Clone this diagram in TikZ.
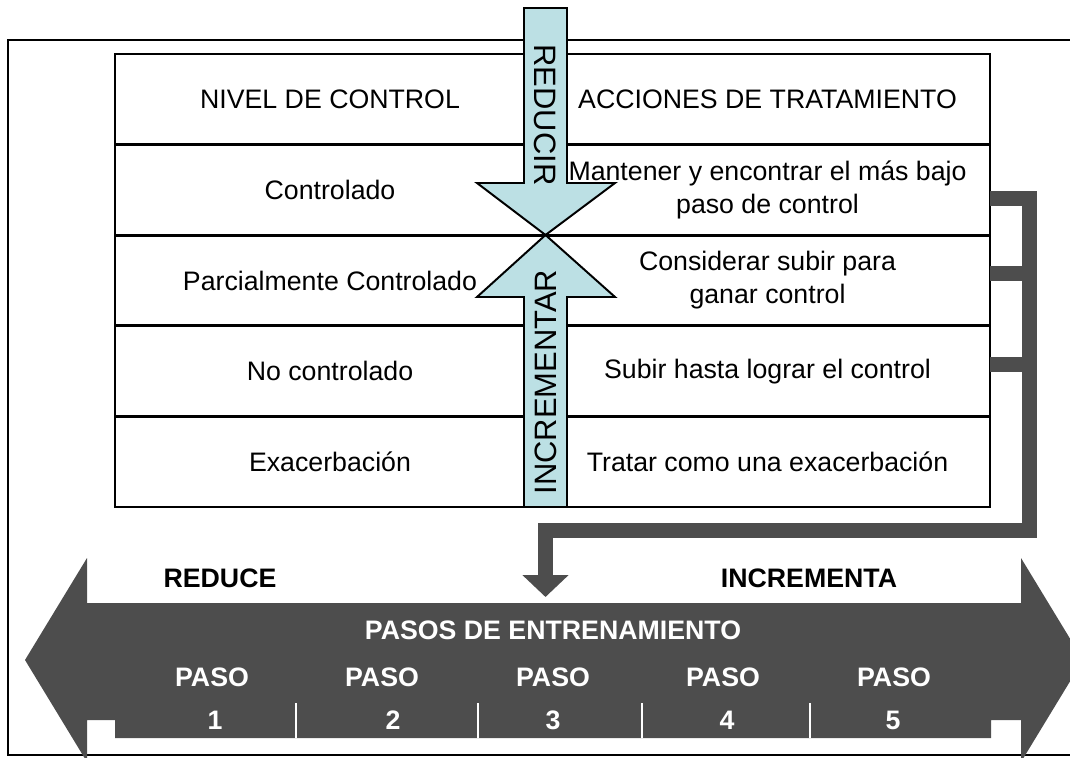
\documentclass[tikz,border=0pt]{standalone}
\usepackage{fontspec}
\setmainfont{Liberation Sans}
\usepackage{tikz}
\usetikzlibrary{arrows.meta}
\definecolor{celeste}{RGB}{188,224,228}
\definecolor{grisosc}{RGB}{77,77,77}
\newcommand{\fila}[4]{
  \node[celda, minimum width=10.75cm]  (nivel#1)  at (330,#2)   {#3};
  \node[celda, minimum width=11.125cm] (accion#1) at (767.5,#2) {#4};
}
\tikzset{
  celda/.style   = {draw, line width=2pt, inner sep=0pt, outer sep=0pt,
                    minimum height=2.265cm, align=center,
                    font=\fontsize{19}{23.5}\selectfont},
  flecha/.style  = {draw, fill=celeste, line width=1.4pt, line join=miter},
  rotulo/.style  = {inner sep=0pt, font=\fontsize{22}{22}\selectfont},
  paso/.style    = {inner sep=0pt, text=white, font=\bfseries\fontsize{19}{19}\selectfont},
  titulo/.style  = {inner sep=0pt, font=\bfseries\fontsize{19}{19}\selectfont}
}

\begin{document}
\begin{tikzpicture}[x=0.025cm, y=-0.025cm]
	\useasboundingbox (0,0) rectangle (1070,757);
	\draw[line width=1.5pt] (1090,40) -- (8,40) -- (8,755) -- (1090,755);
	\fila{1}{99.3}{NIVEL DE CONTROL}{ACCIONES DE TRATAMIENTO}
	\fila{2}{189.9}{Controlado}{Mantener y encontrar el más bajo\\paso de control}
	\fila{3}{280.5}{Parcialmente Controlado}{Considerar subir para\\ganar control}
	\fila{4}{371.1}{No controlado}{Subir hasta lograr el control}
	\fila{5}{461.7}{Exacerbación}{Tratar como una exacerbación}
	\draw[flecha] (524,8) -- (567,8) -- (567,183) -- (615,183) -- (545.5,235)
		-- (477,183) -- (524,183) -- cycle;
	\draw[flecha] (545.5,235) -- (615,297) -- (567,297) -- (567,507)
		-- (524,507) -- (524,297) -- (477,297) -- cycle;
	\node[rotulo, rotate=-90] (reducir) at (545.5,115) {REDUCIR};
	\node[rotulo, rotate=90] (incrementar) at (545.5,382) {INCREMENTAR};
	\fill[grisosc] (87,558) -- (25,660) -- (87,762) -- (87,720) -- (115,720)
		-- (115,738) -- (991,738) -- (991,720) -- (1021,720) -- (1021,762)
		-- (1083,660) -- (1021,558) -- (1021,603) -- (87,603) -- cycle;
	\coordinate (pasos) at (545.5,597);
	\tikzstyle{conector}=[draw=grisosc, line width=0.375cm, line join=miter]
	\draw[conector, -{Triangle[width=1.125cm, length=0.55cm]}]
		([yshift=-0.215cm]accion2.east) -- ++(39.5,0) coordinate (codo)
		|- ([yshift=1.6625cm]pasos) -- (pasos);
	\draw[conector] ([yshift=0.175cm]accion3.east) -- ++(39.5,0);
	\draw[conector] ([yshift=0.175cm]accion4.east) -- ++(39.5,0);
	\node[titulo] (reduce) at (220,578) {REDUCE};
	\node[titulo] (incrementa) at (809,578) {INCREMENTA};
	\node[paso] (entrenamiento) at (553,630) {PASOS DE ENTRENAMIENTO};
	\foreach \x/\y [count=\i] in {212/215, 382/393, 553/553, 723/727, 894/893} {
		\node[paso] (paso\i) at (\x,677.5) {PASO};
		\node[paso] (num\i) at (\y,720) {\i};
	}
	\foreach \x in {296,478,642,810}
		\draw[white, line width=0.8pt] (\x,703) -- (\x,738);
\end{tikzpicture}
\end{document}
